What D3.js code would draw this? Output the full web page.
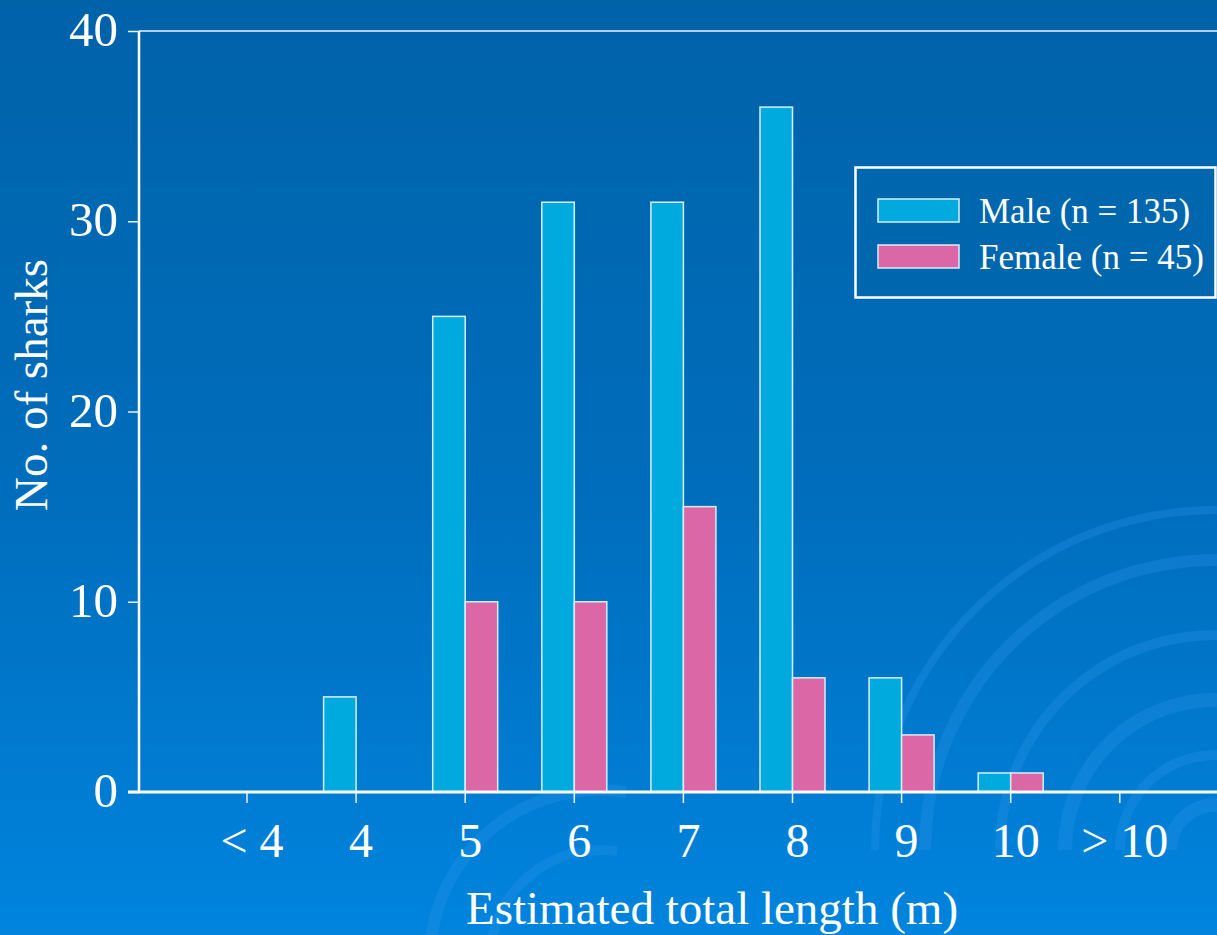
<!DOCTYPE html>
<html><head><meta charset="utf-8">
<script src="https://cdn.jsdelivr.net/npm/d3@7"></script>
<style>html,body{margin:0;padding:0;overflow:hidden;background:#0068b0}</style>
</head><body>
<svg id="chart" width="1217" height="935"></svg>
<script>
const categories = ["< 4", "4", "5", "6", "7", "8", "9", "10", "> 10"];
const maleValues = [0, 5, 25, 31, 31, 36, 6, 1, 0];
const femaleValues = [0, 0, 10, 10, 15, 6, 3, 1, 0];
const yTicks = [0, 10, 20, 30, 40];
const seriesNames = ["Male (n = 135)", "Female (n = 45)"];
const seriesColors = ["#00aade", "#dc67a7"];

(function(){
const W = 1217, H = 935;
const FONT = "Liberation Serif, Times New Roman, serif";
const svg = d3.select("#chart");
const defs = svg.append("defs");
const grad = defs.append("linearGradient").attr("id","bg").attr("x1",0).attr("y1",0).attr("x2",0).attr("y2",1);
grad.append("stop").attr("offset","0%").attr("stop-color","#0062a9");
grad.append("stop").attr("offset","55%").attr("stop-color","#006ebd");
grad.append("stop").attr("offset","100%").attr("stop-color","#0084de");
svg.append("rect").attr("width",W).attr("height",H).attr("fill","url(#bg)");

// decorative swirls
const sw = svg.append("g").attr("fill","none").attr("stroke","#2a96ea").attr("stroke-opacity",0.3);
const swirl = [[1215,850,45,14],[1215,850,95,10],[1215,850,150,14],[1215,850,215,10],[1215,850,290,12],[1215,850,340,8],[600,960,110,10],[600,960,170,12]];
swirl.forEach(([cx,cy,r,w])=>{
  sw.append("path").attr("stroke-width",w)
    .attr("d", d3.arc()({innerRadius:r,outerRadius:r,startAngle:-Math.PI*0.5,endAngle:Math.PI*0.05}))
    .attr("transform",`translate(${cx},${cy})`);
});

const pLeft = 139, pRight = 1217, pTop = 31, pBottom = 792;
const step = 109.1;
const x0 = 247 - step/2;
const x = d3.scaleBand().domain(categories).range([x0, x0 + step*categories.length]).padding(0);
const y = d3.scaleLinear().domain([0,40]).range([pBottom, pTop]);
const barW = 32.5;

const g = svg.append("g");
const data = categories.map((c,i)=>({c, m:maleValues[i], f:femaleValues[i]}));
g.selectAll(".male").data(data.filter(d=>d.m>0)).join("rect")
  .attr("x", d=>x(d.c)+x.bandwidth()/2 - barW).attr("width", barW)
  .attr("y", d=>y(d.m)).attr("height", d=>y(0)-y(d.m))
  .attr("fill", seriesColors[0]).attr("stroke","#d8eef8").attr("stroke-width",1.5);
g.selectAll(".female").data(data.filter(d=>d.f>0)).join("rect")
  .attr("x", d=>x(d.c)+x.bandwidth()/2).attr("width", barW)
  .attr("y", d=>y(d.f)).attr("height", d=>y(0)-y(d.f))
  .attr("fill", seriesColors[1]).attr("stroke","#d8eef8").attr("stroke-width",1.5);

svg.append("line").attr("x1",pLeft).attr("x2",pRight).attr("y1",pTop).attr("y2",pTop).attr("stroke","#e8f2fa").attr("stroke-width",1.5);

const yAxis = svg.append("g").attr("transform",`translate(${pLeft},0)`)
  .call(d3.axisLeft(y).tickValues(yTicks).tickSize(11).tickPadding(10));
yAxis.select(".domain").attr("stroke","#ffffff").attr("stroke-width",2.5).attr("d",`M0,${pTop}V${pBottom}`);
yAxis.selectAll(".tick line").attr("stroke","#e8f2fa").attr("stroke-width",1.5);
yAxis.selectAll(".tick text").attr("fill","#fff").attr("font-family",FONT).attr("font-size",49).attr("dy","0.30em");

const xAxis = svg.append("g").attr("transform",`translate(0,${pBottom})`)
  .call(d3.axisBottom(x).tickSize(11).tickPadding(20));
xAxis.select(".domain").attr("stroke","#ffffff").attr("stroke-width",3).attr("d",`M${pLeft-11},0H${pRight}`);
xAxis.selectAll(".tick line").attr("stroke","#e8f2fa").attr("stroke-width",1.5);
xAxis.selectAll(".tick text").attr("fill","#fff").attr("font-family",FONT).attr("font-size",48).attr("dx","5");

svg.append("text").attr("transform","translate(47,385) rotate(-90)").attr("text-anchor","middle")
  .attr("fill","#fff").attr("font-family",FONT).attr("font-size",47).text("No. of sharks");
svg.append("text").attr("x",712).attr("y",924).attr("text-anchor","middle")
  .attr("fill","#fff").attr("font-family",FONT).attr("font-size",47).text("Estimated total length (m)");

const lg = svg.append("g");
lg.append("rect").attr("x",855.5).attr("y",167.5).attr("width",360).attr("height",130)
  .attr("fill","#0066ad").attr("stroke","#ffffff").attr("stroke-width",2.5);
seriesNames.forEach((n,i)=>{
  const yy = 199 + i*46;
  lg.append("rect").attr("x",878).attr("y",yy).attr("width",81).attr("height",23)
    .attr("fill",seriesColors[i]).attr("stroke","#d8eef8").attr("stroke-width",1.5);
  lg.append("text").attr("x",979).attr("y",yy+24).attr("fill","#fff")
    .attr("font-family",FONT).attr("font-size",35).text(n);
});
})();
</script>
</body></html>
